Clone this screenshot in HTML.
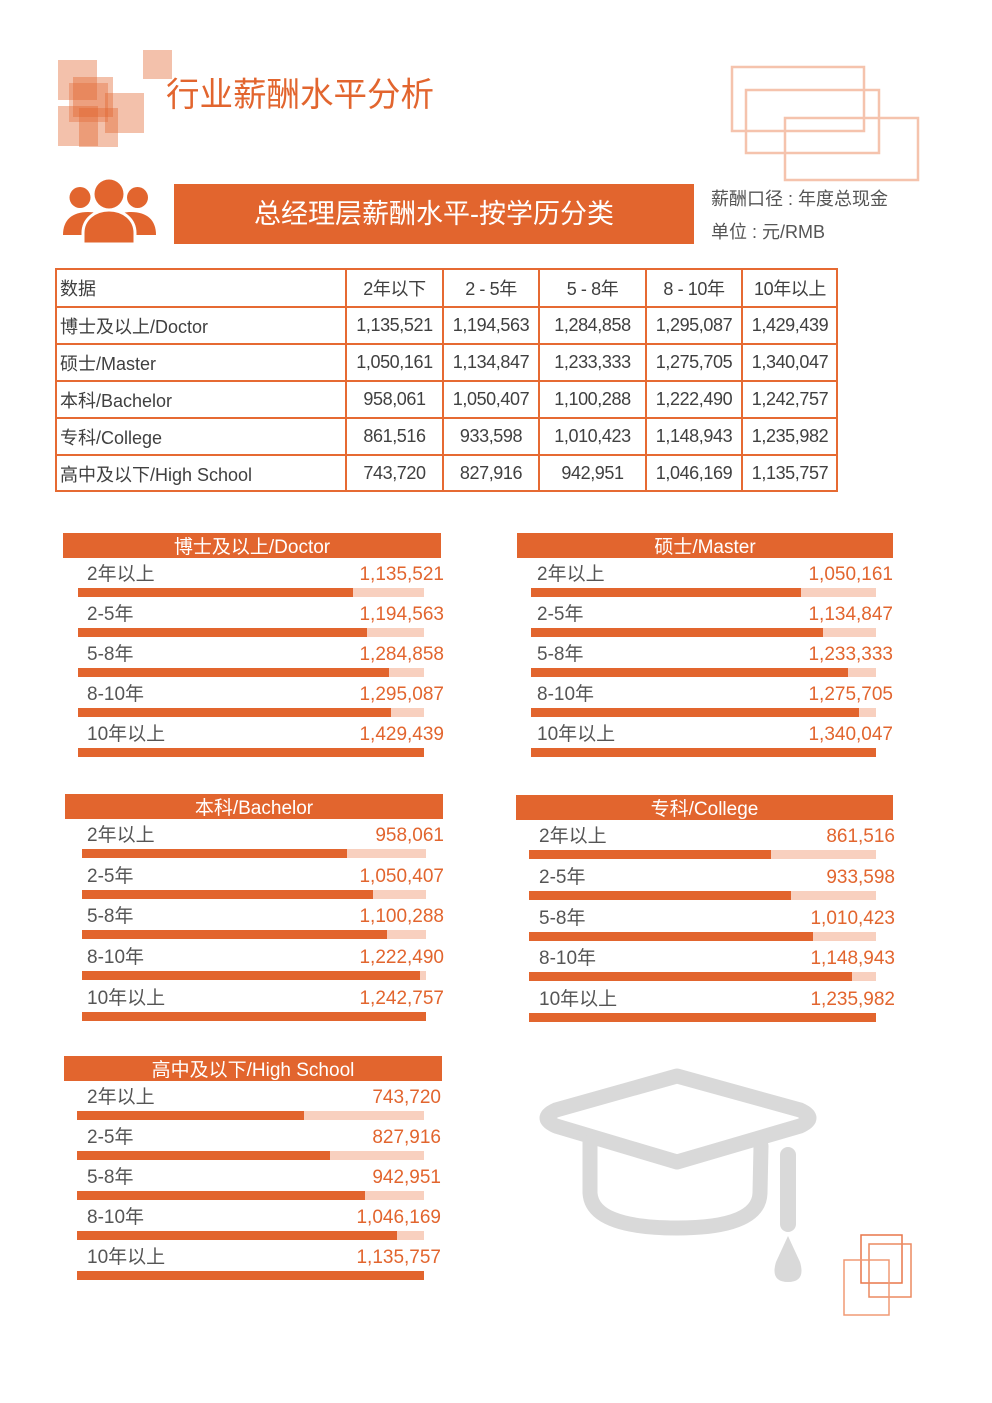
<!DOCTYPE html>
<html><head><meta charset="utf-8">
<style>
*{margin:0;padding:0;box-sizing:border-box}
body{width:992px;height:1403px;background:#fff;position:relative;overflow:hidden;font-family:"Liberation Sans","Noto Sans CJK SC",sans-serif}
.a{position:absolute}
.c{position:absolute;border-left:2px solid #e66a32;border-top:2px solid #e66a32;display:flex;align-items:center;justify-content:center;font-size:18px;color:#404040;letter-spacing:-0.4px;white-space:nowrap}
.c.l{justify-content:flex-start;padding-left:3px;letter-spacing:0}
.hd{position:absolute;background:#e2652e;color:#fff;font-size:19px;text-align:center;line-height:29px;height:25px;overflow:hidden;white-space:nowrap}
.tr{position:absolute;height:9px;background:#f8d0bf}
.fl{position:absolute;left:0;top:0;height:9px;background:#e2652e}
.lb{position:absolute;font-size:19px;line-height:24px;color:#555;white-space:nowrap;transform:translateY(2px)}
.vl{position:absolute;font-size:19px;line-height:24px;color:#e2652e;width:200px;text-align:right;white-space:nowrap;transform:translateY(2px)}
</style></head><body>

<!-- top-left squares -->
<div class="a" style="left:58px;top:60px;width:39px;height:40px;background:rgba(226,101,46,0.4)"></div>
<div class="a" style="left:143px;top:50px;width:29px;height:29px;background:rgba(226,101,46,0.4)"></div>
<div class="a" style="left:73px;top:77px;width:40px;height:40px;background:rgba(226,101,46,0.4)"></div>
<div class="a" style="left:69px;top:83px;width:39px;height:39px;background:rgba(226,101,46,0.35)"></div>
<div class="a" style="left:105px;top:93px;width:39px;height:40px;background:rgba(226,101,46,0.4)"></div>
<div class="a" style="left:58px;top:106px;width:40px;height:40px;background:rgba(226,101,46,0.4)"></div>
<div class="a" style="left:79px;top:108px;width:39px;height:39px;background:rgba(226,101,46,0.4)"></div>

<div class="a" style="left:166px;top:75px;font-size:33.5px;line-height:42px;color:#e2652e;white-space:nowrap">行业薪酬水平分析</div>

<svg class="a" style="left:0;top:0" width="992" height="1403">
<g fill="none" stroke="#f5c3ad" stroke-width="2.5">
<rect x="732" y="67" width="132" height="64"/>
<rect x="746" y="90" width="133" height="63"/>
<rect x="785" y="118" width="133" height="62"/>
</g>
<g fill="#e2652e">
<circle cx="80" cy="197.5" r="10.5"/>
<circle cx="137.5" cy="197.5" r="10.5"/>
<circle cx="109" cy="194" r="14.5"/>
<path d="M63,235 C63,220 72,212 88,212 C100,212 108,218 110,225 L110,235 Z"/>
<path d="M156,235 C156,220 147,212 131,212 C119,212 111,218 109,225 L109,235 Z"/>
<path d="M83,244 L83,233 C83,219 95,210 109,210 C123,210 135,219 135,233 L135,244 Z" stroke="#fff" stroke-width="3"/>
</g>
<g fill="none" stroke="#d9d9d9" stroke-width="15" stroke-linejoin="round" stroke-linecap="round">
<path d="M677,1076 L556,1110 Q538,1118 556,1126 L677,1162 L800,1126 Q818,1118 800,1110 Z"/>
<path d="M590,1142 L590,1193 Q592,1228 677,1228 Q759,1228 760,1193 L761,1146"/>
</g>
<line x1="788" y1="1155" x2="788" y2="1224" stroke="#d9d9d9" stroke-width="16" stroke-linecap="round"/>
<path d="M788,1236 L776,1262 Q770,1282 788,1282 Q806,1282 800,1262 Z" fill="#d9d9d9"/>
<g fill="none" stroke-width="1.5">
<rect x="861" y="1235" width="41" height="48" stroke="#e8774a"/>
<rect x="869" y="1244" width="42" height="53" stroke="#ec8a60"/>
<rect x="844" y="1260" width="45" height="55" stroke="#f09a75"/>
</g>
</svg>

<div class="a" style="left:174px;top:184px;width:520px;height:60px;background:#e2652e;color:#fff;font-size:27px;line-height:60px;text-align:center;white-space:nowrap">总经理层薪酬水平-按学历分类</div>
<div class="a" style="left:711px;top:187px;font-size:18px;line-height:24px;color:#555;white-space:nowrap">薪酬口径 : 年度总现金</div>
<div class="a" style="left:711px;top:220px;font-size:18px;line-height:24px;color:#555;white-space:nowrap">单位 : 元/RMB</div>

<!-- table -->
<div class="a" style="left:55px;top:268px;width:783px;height:224px;border-right:2px solid #e66a32;border-bottom:2px solid #e66a32"></div>
<div class="c l" style="left:55px;top:268px;width:290px;height:38px">数据</div>
<div class="c" style="left:345px;top:268px;width:97px;height:38px">2年以下</div>
<div class="c" style="left:442px;top:268px;width:96px;height:38px">2 - 5年</div>
<div class="c" style="left:538px;top:268px;width:107px;height:38px">5 - 8年</div>
<div class="c" style="left:645px;top:268px;width:96px;height:38px">8 - 10年</div>
<div class="c" style="left:741px;top:268px;width:96px;height:38px">10年以上</div>

<div class="c l" style="left:55px;top:306px;width:290px;height:37px">博士及以上/Doctor</div>
<div class="c" style="left:345px;top:306px;width:97px;height:37px">1,135,521</div>
<div class="c" style="left:442px;top:306px;width:96px;height:37px">1,194,563</div>
<div class="c" style="left:538px;top:306px;width:107px;height:37px">1,284,858</div>
<div class="c" style="left:645px;top:306px;width:96px;height:37px">1,295,087</div>
<div class="c" style="left:741px;top:306px;width:96px;height:37px">1,429,439</div>

<div class="c l" style="left:55px;top:343px;width:290px;height:37px">硕士/Master</div>
<div class="c" style="left:345px;top:343px;width:97px;height:37px">1,050,161</div>
<div class="c" style="left:442px;top:343px;width:96px;height:37px">1,134,847</div>
<div class="c" style="left:538px;top:343px;width:107px;height:37px">1,233,333</div>
<div class="c" style="left:645px;top:343px;width:96px;height:37px">1,275,705</div>
<div class="c" style="left:741px;top:343px;width:96px;height:37px">1,340,047</div>

<div class="c l" style="left:55px;top:380px;width:290px;height:37px">本科/Bachelor</div>
<div class="c" style="left:345px;top:380px;width:97px;height:37px">958,061</div>
<div class="c" style="left:442px;top:380px;width:96px;height:37px">1,050,407</div>
<div class="c" style="left:538px;top:380px;width:107px;height:37px">1,100,288</div>
<div class="c" style="left:645px;top:380px;width:96px;height:37px">1,222,490</div>
<div class="c" style="left:741px;top:380px;width:96px;height:37px">1,242,757</div>

<div class="c l" style="left:55px;top:417px;width:290px;height:37px">专科/College</div>
<div class="c" style="left:345px;top:417px;width:97px;height:37px">861,516</div>
<div class="c" style="left:442px;top:417px;width:96px;height:37px">933,598</div>
<div class="c" style="left:538px;top:417px;width:107px;height:37px">1,010,423</div>
<div class="c" style="left:645px;top:417px;width:96px;height:37px">1,148,943</div>
<div class="c" style="left:741px;top:417px;width:96px;height:37px">1,235,982</div>

<div class="c l" style="left:55px;top:454px;width:290px;height:37px">高中及以下/High School</div>
<div class="c" style="left:345px;top:454px;width:97px;height:37px">743,720</div>
<div class="c" style="left:442px;top:454px;width:96px;height:37px">827,916</div>
<div class="c" style="left:538px;top:454px;width:107px;height:37px">942,951</div>
<div class="c" style="left:645px;top:454px;width:96px;height:37px">1,046,169</div>
<div class="c" style="left:741px;top:454px;width:96px;height:37px">1,135,757</div>

<!-- Doctor panel -->
<div class="hd" style="left:63px;top:533px;width:378px">博士及以上/Doctor</div>
<div class="lb" style="left:87px;top:561px">2年以上</div><div class="vl" style="left:244px;top:561px">1,135,521</div>
<div class="tr" style="left:78px;top:588px;width:346px"><div class="fl" style="width:275px"></div></div>
<div class="lb" style="left:87px;top:601px">2-5年</div><div class="vl" style="left:244px;top:601px">1,194,563</div>
<div class="tr" style="left:78px;top:628px;width:346px"><div class="fl" style="width:289px"></div></div>
<div class="lb" style="left:87px;top:641px">5-8年</div><div class="vl" style="left:244px;top:641px">1,284,858</div>
<div class="tr" style="left:78px;top:668px;width:346px"><div class="fl" style="width:311px"></div></div>
<div class="lb" style="left:87px;top:681px">8-10年</div><div class="vl" style="left:244px;top:681px">1,295,087</div>
<div class="tr" style="left:78px;top:708px;width:346px"><div class="fl" style="width:313px"></div></div>
<div class="lb" style="left:87px;top:721px">10年以上</div><div class="vl" style="left:244px;top:721px">1,429,439</div>
<div class="tr" style="left:78px;top:748px;width:346px"><div class="fl" style="width:346px"></div></div>

<!-- Master panel -->
<div class="hd" style="left:517px;top:533px;width:376px">硕士/Master</div>
<div class="lb" style="left:537px;top:561px">2年以上</div><div class="vl" style="left:693px;top:561px">1,050,161</div>
<div class="tr" style="left:531px;top:588px;width:345px"><div class="fl" style="width:270px"></div></div>
<div class="lb" style="left:537px;top:601px">2-5年</div><div class="vl" style="left:693px;top:601px">1,134,847</div>
<div class="tr" style="left:531px;top:628px;width:345px"><div class="fl" style="width:292px"></div></div>
<div class="lb" style="left:537px;top:641px">5-8年</div><div class="vl" style="left:693px;top:641px">1,233,333</div>
<div class="tr" style="left:531px;top:668px;width:345px"><div class="fl" style="width:317px"></div></div>
<div class="lb" style="left:537px;top:681px">8-10年</div><div class="vl" style="left:693px;top:681px">1,275,705</div>
<div class="tr" style="left:531px;top:708px;width:345px"><div class="fl" style="width:328px"></div></div>
<div class="lb" style="left:537px;top:721px">10年以上</div><div class="vl" style="left:693px;top:721px">1,340,047</div>
<div class="tr" style="left:531px;top:748px;width:345px"><div class="fl" style="width:345px"></div></div>

<!-- Bachelor panel -->
<div class="hd" style="left:65px;top:794px;width:378px">本科/Bachelor</div>
<div class="lb" style="left:87px;top:822px">2年以上</div><div class="vl" style="left:244px;top:822px">958,061</div>
<div class="tr" style="left:82px;top:849px;width:344px"><div class="fl" style="width:265px"></div></div>
<div class="lb" style="left:87px;top:863px">2-5年</div><div class="vl" style="left:244px;top:863px">1,050,407</div>
<div class="tr" style="left:82px;top:890px;width:344px"><div class="fl" style="width:291px"></div></div>
<div class="lb" style="left:87px;top:903px">5-8年</div><div class="vl" style="left:244px;top:903px">1,100,288</div>
<div class="tr" style="left:82px;top:930px;width:344px"><div class="fl" style="width:305px"></div></div>
<div class="lb" style="left:87px;top:944px">8-10年</div><div class="vl" style="left:244px;top:944px">1,222,490</div>
<div class="tr" style="left:82px;top:971px;width:344px"><div class="fl" style="width:338px"></div></div>
<div class="lb" style="left:87px;top:985px">10年以上</div><div class="vl" style="left:244px;top:985px">1,242,757</div>
<div class="tr" style="left:82px;top:1012px;width:344px"><div class="fl" style="width:344px"></div></div>

<!-- College panel -->
<div class="hd" style="left:516px;top:795px;width:377px">专科/College</div>
<div class="lb" style="left:539px;top:823px">2年以上</div><div class="vl" style="left:695px;top:823px">861,516</div>
<div class="tr" style="left:529px;top:850px;width:347px"><div class="fl" style="width:242px"></div></div>
<div class="lb" style="left:539px;top:864px">2-5年</div><div class="vl" style="left:695px;top:864px">933,598</div>
<div class="tr" style="left:529px;top:891px;width:347px"><div class="fl" style="width:262px"></div></div>
<div class="lb" style="left:539px;top:905px">5-8年</div><div class="vl" style="left:695px;top:905px">1,010,423</div>
<div class="tr" style="left:529px;top:932px;width:347px"><div class="fl" style="width:284px"></div></div>
<div class="lb" style="left:539px;top:945px">8-10年</div><div class="vl" style="left:695px;top:945px">1,148,943</div>
<div class="tr" style="left:529px;top:972px;width:347px"><div class="fl" style="width:323px"></div></div>
<div class="lb" style="left:539px;top:986px">10年以上</div><div class="vl" style="left:695px;top:986px">1,235,982</div>
<div class="tr" style="left:529px;top:1013px;width:347px"><div class="fl" style="width:347px"></div></div>

<!-- High School panel -->
<div class="hd" style="left:64px;top:1056px;width:378px">高中及以下/High School</div>
<div class="lb" style="left:87px;top:1084px">2年以上</div><div class="vl" style="left:241px;top:1084px">743,720</div>
<div class="tr" style="left:77px;top:1111px;width:347px"><div class="fl" style="width:227px"></div></div>
<div class="lb" style="left:87px;top:1124px">2-5年</div><div class="vl" style="left:241px;top:1124px">827,916</div>
<div class="tr" style="left:77px;top:1151px;width:347px"><div class="fl" style="width:253px"></div></div>
<div class="lb" style="left:87px;top:1164px">5-8年</div><div class="vl" style="left:241px;top:1164px">942,951</div>
<div class="tr" style="left:77px;top:1191px;width:347px"><div class="fl" style="width:288px"></div></div>
<div class="lb" style="left:87px;top:1204px">8-10年</div><div class="vl" style="left:241px;top:1204px">1,046,169</div>
<div class="tr" style="left:77px;top:1231px;width:347px"><div class="fl" style="width:320px"></div></div>
<div class="lb" style="left:87px;top:1244px">10年以上</div><div class="vl" style="left:241px;top:1244px">1,135,757</div>
<div class="tr" style="left:77px;top:1271px;width:347px"><div class="fl" style="width:347px"></div></div>

</body></html>
